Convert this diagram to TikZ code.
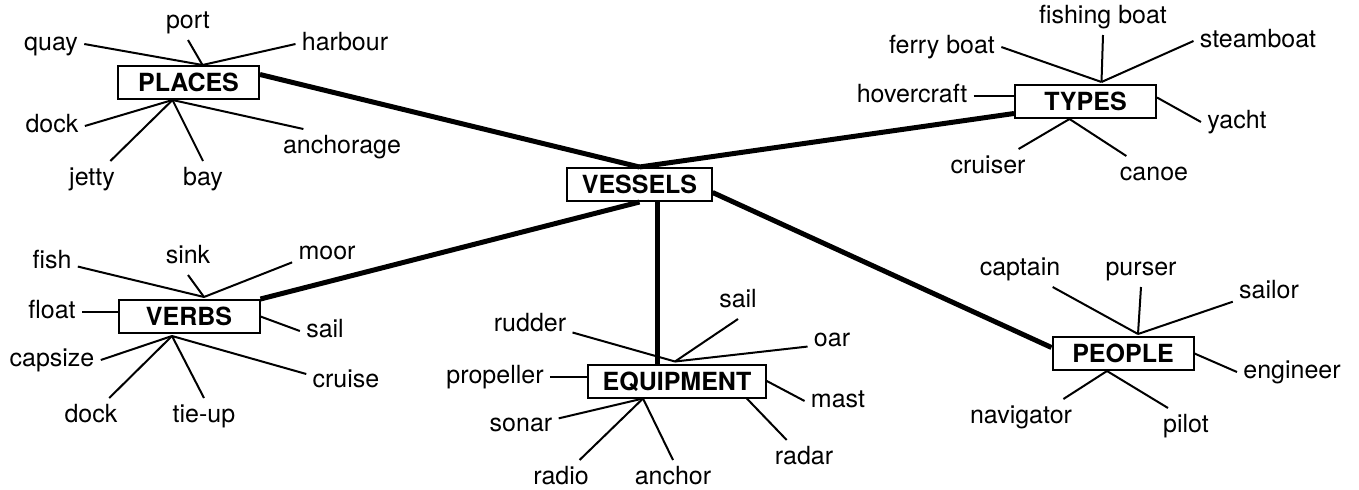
\documentclass[tikz,border=0pt]{standalone}
\usepackage{fontspec}
\setmainfont{TeX Gyre Heros}
\def\lblsize{\fontsize{12.5}{15}\selectfont}
\tikzset{
  topic/.style={draw, line width=1pt, font=\lblsize\bfseries, minimum width=70.5pt,
    minimum height=16.5pt, inner xsep=7.25pt, inner ysep=0pt, text height=9pt, text depth=0pt},
  word/.style={font=\lblsize, inner sep=3pt, text height=9pt, text depth=2.6pt},
  spoke/.style={line width=1pt},
  trunk/.style={line width=2.5pt},
}

\begin{document}
\begin{tikzpicture}[x=0.5pt, y=-0.5pt]
  \useasboundingbox (0,0) rectangle (1359,489);

  % topic boxes
  \node[topic] (vessels) at (639.5,184.5) {VESSELS};
  \node[topic] (places) at (188.5,82.5) {PLACES};
  \node[topic] (types) at (1085.5,101.5) {TYPES};
  \node[topic] (verbs) at (189,316.5) {VERBS};
  \node[topic] (equip) at (677,381) {EQUIPMENT};
  \node[topic] (people) at (1123,353.5) {PEOPLE};

  % hubs where the spokes meet
  \coordinate (placesT) at ([xshift=7pt]places.north);
  \coordinate (placesB) at ([xshift=-8pt]places.south);
  \coordinate (typesT) at ([xshift=8pt,yshift=1pt]types.north);
  \coordinate (typesB) at ([xshift=-8pt]types.south);
  \coordinate (verbsT) at ([xshift=7.5pt,yshift=1pt]verbs.north);
  \coordinate (verbsB) at ([xshift=-8.5pt,yshift=-1pt]verbs.south);
  \coordinate (equipT) at ([xshift=-1pt,yshift=1pt]equip.north);
  \coordinate (equipB) at ([xshift=-17pt]equip.south);
  \coordinate (peopleT) at ([xshift=7.5pt,yshift=1pt]people.north);
  \coordinate (peopleB) at ([xshift=-8pt]people.south);

  % main branches
  \coordinate (eqtop) at ([xshift=-10pt]equip.north);
  \draw[trunk] ([yshift=4pt]places.east) -- (vessels.north);
  \draw[trunk] ([yshift=-6pt]types.west) -- (vessels.north);
  \draw[trunk] (vessels.south) -- (verbs.north east);
  \draw[trunk] (eqtop |- vessels.south) -- (eqtop);
  \draw[trunk] ([yshift=-4pt]vessels.east) -- ([yshift=3pt]people.west);

  % places
  \node[word] (quay) at (51,44) {quay};
  \node[word] (port) at (188,22) {port};
  \node[word] (harbour) at (345,44) {harbour};
  \node[word] (pdock) at (52,126) {dock};
  \node[word] (jetty) at (92,179) {jetty};
  \node[word] (bay) at (203,179) {bay};
  \node[word] (anchorage) at (342,147) {anchorage};
  \draw[spoke] (placesT) -- (quay.east);
  \draw[spoke] (placesT) -- (port.south);
  \draw[spoke] (placesT) -- (harbour.west);
  \draw[spoke] (placesB) -- (pdock.east);
  \draw[spoke] (placesB) -- (jetty);
  \draw[spoke] (placesB) -- (bay.north);
  \draw[spoke] (placesB) -- (anchorage.155);

  % types
  \node[word] (fishing) at (1103,17) {fishing boat};
  \node[word] (ferry) at (942,47) {ferry boat};
  \node[word] (steamboat) at (1258,41) {steamboat};
  \node[word] (hovercraft) at (912,96) {hovercraft};
  \node[word] (yacht) at (1237,122) {yacht};
  \node[word] (cruiser) at (988,167) {cruiser};
  \node[word] (canoe) at (1154,174) {canoe};
  \draw[spoke] (typesT) -- (fishing.south);
  \draw[spoke] (typesT) -- (ferry.east);
  \draw[spoke] (typesT) -- (steamboat.west);
  \draw[spoke] (hovercraft.east) -- (hovercraft.east -| types.west);
  \draw[spoke] ([yshift=2pt]types.east) -- (yacht.west);
  \draw[spoke] (typesB) -- (cruiser);
  \draw[spoke] (typesB) -- (canoe);

  % verbs
  \node[word] (fish) at (52,262) {fish};
  \node[word] (sink) at (188,257) {sink};
  \node[word] (moor) at (327,253) {moor};
  \node[word] (float) at (52,312) {float};
  \node[word] (vsail) at (325,331) {sail};
  \node[word] (capsize) at (52,360) {capsize};
  \node[word] (vdock) at (91,416) {dock};
  \node[word] (tieup) at (204,416) {tie-up};
  \node[word] (cruise) at (346,381) {cruise};
  \draw[spoke] (verbsT) -- (fish.-10);
  \draw[spoke] (verbsT) -- (sink.south);
  \draw[spoke] (verbsT) -- (moor.195);
  \draw[spoke] (float.east) -- (float.east -| verbs.west);
  \draw[spoke] (verbs.east) -- (vsail.west);
  \draw[spoke] (verbsB) -- (capsize.east);
  \draw[spoke] (verbsB) -- (vdock);
  \draw[spoke] (verbsB) -- (tieup.north);
  \draw[spoke] (verbsB) -- (cruise.170);

  % equipment
  \node[word] (rudder) at (530,325) {rudder};
  \node[word] (esail) at (738,301) {sail};
  \node[word] (oar) at (832,340) {oar};
  \node[word] (propeller) at (495,377) {propeller};
  \node[word] (mast) at (838,401) {mast};
  \node[word] (sonar) at (521,425) {sonar};
  \node[word] (radio) at (561,478) {radio};
  \node[word] (anchor) at (673,478) {anchor};
  \node[word] (radar) at (804,458) {radar};
  \draw[spoke] (equipT) -- (rudder.-10);
  \draw[spoke] (equipT) -- (esail.south);
  \draw[spoke] (equipT) -- (oar.195);
  \draw[spoke] (propeller.east) -- (propeller.east -| equip.west);
  \draw[spoke] (equip.east) -- (mast.west);
  \draw[spoke] (equipB) -- (sonar.10);
  \draw[spoke] (equipB) -- (radio);
  \draw[spoke] (equipB) -- (anchor.north);
  \draw[spoke] ([xshift=-10pt]equip.south east) -- (radar);

  % people
  \node[word] (captain) at (1020,269) {captain};
  \node[word] (purser) at (1141,269) {purser};
  \node[word] (sailor) at (1269,292) {sailor};
  \node[word] (engineer) at (1292,372) {engineer};
  \node[word] (navigator) at (1021,417) {navigator};
  \node[word] (pilot) at (1186,426) {pilot};
  \draw[spoke] (peopleT) -- (captain);
  \draw[spoke] (peopleT) -- (purser.south);
  \draw[spoke] (peopleT) -- (sailor.195);
  \draw[spoke] (people.east) -- (engineer.west);
  \draw[spoke] (peopleB) -- (navigator.23);
  \draw[spoke] (peopleB) -- (pilot.135);
\end{tikzpicture}
\end{document}
